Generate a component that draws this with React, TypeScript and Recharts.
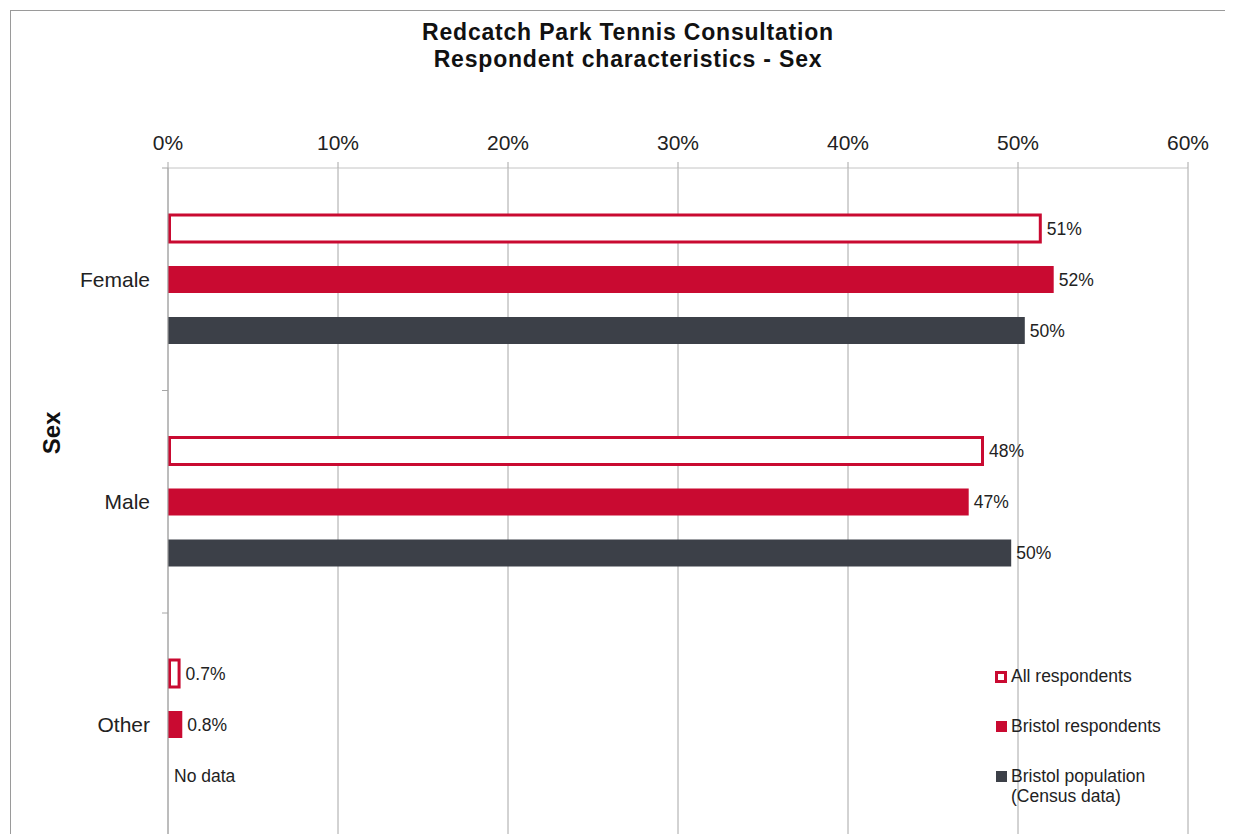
import { BarChart, Bar, XAxis, YAxis, CartesianGrid, LabelList, Legend, Rectangle } from 'recharts';

const categories = ['Female', 'Male', 'Other'];
const allRespondents = [51.4, 48.0, 0.74];
const bristolRespondents = [52.1, 47.1, 0.84];
const bristolPopulation: (number | null)[] = [50.4, 49.6, null]; // no census figure for "Other"
const xTicks = [0, 10, 20, 30, 40, 50, 60];

const RED = '#c90a31';
const DARK = '#3c4048';
const TEXT = '#222';
const FONT = '"Liberation Sans", Arial, sans-serif';

const W = 1233;
const H = 834;
const PLOT_LEFT = 168;
const PLOT_TOP = 168;
const BAND = 222.5;

const series = [
  { key: 'all', name: 'All respondents', fill: '#fff', stroke: RED, size: 12 },
  { key: 'bristol', name: 'Bristol respondents', fill: RED, stroke: undefined, size: 11 },
  { key: 'population', name: 'Bristol population\n(Census data)', fill: DARK, stroke: undefined, size: 11 },
];

const data = categories.map((sex, i) => ({
  sex,
  all: allRespondents[i],
  bristol: bristolRespondents[i],
  population: bristolPopulation[i] ?? 0,
}));

const fmt = (v: number) => (v >= 1 ? `${Math.round(v)}%` : `${v.toFixed(1)}%`);

const makeLabel = (values: (number | null)[]) => (props: any) => {
  const { x, y, width, height, index } = props;
  const raw = values[index];
  const text = raw == null ? 'No data' : fmt(raw);
  return (
    <text
      x={Number(x) + (raw == null ? 6 : Number(width) + 5)}
      y={Number(y) + Number(height) / 2}
      dominantBaseline="central"
      fontSize={17.5}
      fontFamily={FONT}
      fill={TEXT}
    >
      {text}
    </text>
  );
};

// outline kept inside the bar horizontally, so it starts at the axis and ends at the value
const InsetOutline = (props: any) => {
  const { x, y, width, height } = props;
  return (
    <Rectangle
      x={x + 1.5}
      y={y}
      width={Math.max(width - 3, 0)}
      height={height}
      fill="#fff"
      stroke={RED}
      strokeWidth={3}
    />
  );
};

const CategoryTick = (props: any) => {
  const { x, y, payload } = props;
  return (
    <g>
      <line x1={PLOT_LEFT - 6} x2={PLOT_LEFT} y1={y - BAND / 2} y2={y - BAND / 2} stroke="#a6a6a6" />
      <text x={x} y={y} textAnchor="end" dominantBaseline="central" fontSize={21} fontFamily={FONT} fill={TEXT}>
        {payload.value}
      </text>
    </g>
  );
};

const renderLegend = () => (
  <div style={{ fontFamily: FONT, fontSize: 17.5, color: TEXT }}>
    {series.map((s) => (
      <div key={s.key} style={{ display: 'flex', alignItems: 'flex-start', height: 50 }}>
        <span
          style={{
            width: s.size,
            height: s.size,
            boxSizing: 'border-box',
            background: s.fill,
            border: s.stroke ? `3px solid ${s.stroke}` : 'none',
            marginTop: 5,
            marginRight: 4,
            marginLeft: 11 - s.size,
            flex: 'none',
          }}
        />
        <span style={{ lineHeight: '20px', whiteSpace: 'pre' }}>{s.name}</span>
      </div>
    ))}
  </div>
);

export default function App() {
  return (
    <div style={{ position: 'relative', width: W, height: H, overflow: 'hidden', margin: '-8px 0 0 -8px', background: '#fff' }}>
      {/* outer frame, bottom edge runs off the picture */}
      <div style={{ position: 'absolute', left: 10, top: 10, width: W - 12, height: 900, border: '1px solid #9a9a9a' }} />

      <div
        style={{
          position: 'absolute',
          top: 19,
          left: 0,
          width: 1256,
          textAlign: 'center',
          fontFamily: FONT,
          fontWeight: 700,
          fontSize: 23,
          letterSpacing: '0.8px',
          lineHeight: '27px',
          color: '#111',
        }}
      >
        Redcatch Park Tennis Consultation
        <br />
        Respondent characteristics - Sex
      </div>

      <div style={{ position: 'absolute', left: 0, top: 0 }}>
        <BarChart
          width={W}
          height={PLOT_TOP + BAND * 3}
          data={data}
          layout="vertical"
          margin={{ top: PLOT_TOP - 30, right: W - 1188, bottom: 0, left: 0 }}
          barSize={27}
          barGap={24}
        >
          <CartesianGrid horizontal={false} stroke="#a6a6a6" />
          <XAxis
            type="number"
            orientation="top"
            domain={[0, 60]}
            ticks={xTicks}
            tickFormatter={(v) => `${v}%`}
            height={30}
            tickSize={6}
            tickMargin={12}
            interval={0}
            axisLine={{ stroke: '#c4c4c4' }}
            tickLine={{ stroke: '#a6a6a6' }}
            tick={{ fontSize: 21, fontFamily: FONT, fill: TEXT }}
          />
          <YAxis
            type="category"
            dataKey="sex"
            width={PLOT_LEFT}
            tickSize={6}
            tickMargin={12}
            tickLine={false}
            axisLine={{ stroke: '#a6a6a6' }}
            tick={<CategoryTick />}
            label={{
              content: () => (
                <text
                  x={51}
                  y={433}
                  transform="rotate(-90 51 433)"
                  textAnchor="middle"
                  dominantBaseline="central"
                  fontSize={24}
                  fontWeight={700}
                  fontFamily={FONT}
                  fill="#111"
                >
                  Sex
                </text>
              ),
            }}
          />
          <Legend
            layout="vertical"
            align="center"
            verticalAlign="middle"
            content={renderLegend}
            wrapperStyle={{ left: 996, top: 666, width: 230 }}
          />
          <Bar dataKey="all" name="All respondents" fill="#fff" shape={<InsetOutline />} isAnimationActive={false}>
            <LabelList content={makeLabel(allRespondents)} />
          </Bar>
          <Bar dataKey="bristol" name="Bristol respondents" fill={RED} isAnimationActive={false}>
            <LabelList content={makeLabel(bristolRespondents)} />
          </Bar>
          <Bar
            dataKey="population"
            name="Bristol population"
            fill={DARK}
            minPointSize={(v: any) => (v === 0 ? 0.01 : 0)}
            isAnimationActive={false}
          >
            <LabelList content={makeLabel(bristolPopulation)} />
          </Bar>
        </BarChart>
      </div>
    </div>
  );
}
